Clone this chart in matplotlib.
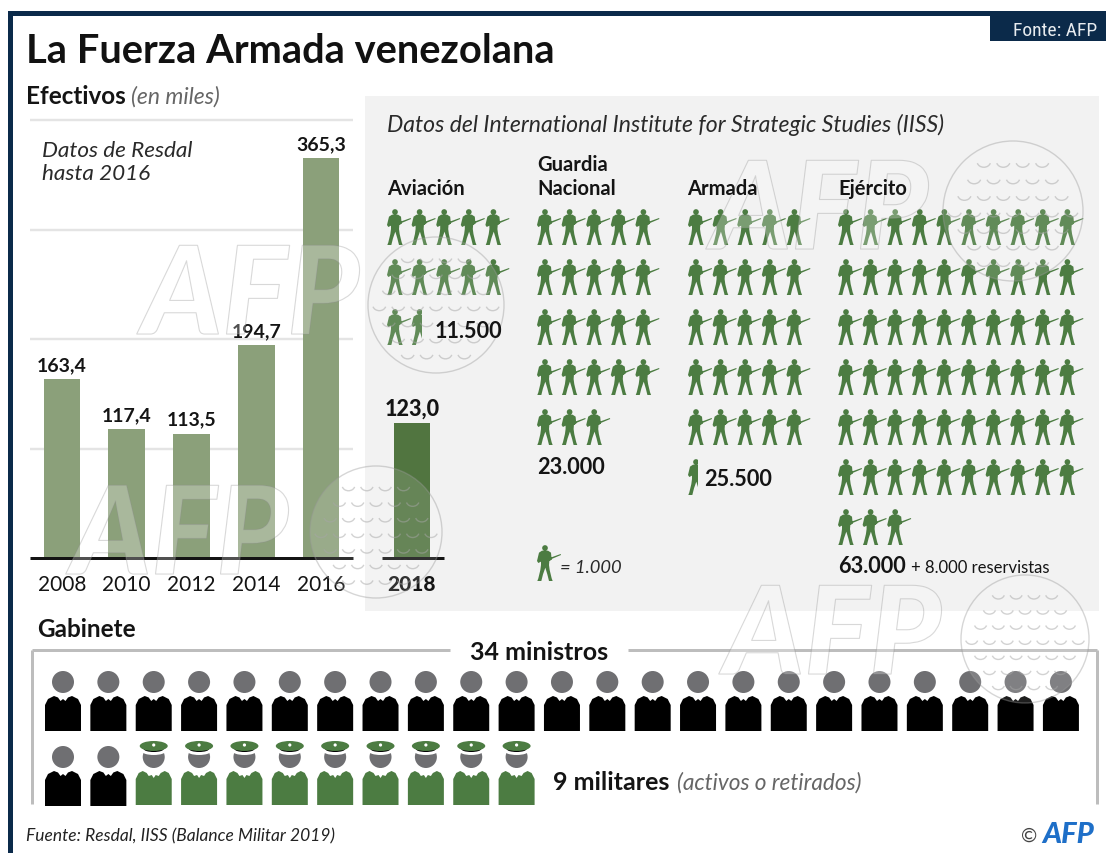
import numpy as np
import matplotlib
matplotlib.use("Agg")
import matplotlib.pyplot as plt
from matplotlib.path import Path
from matplotlib.patches import PathPatch, Circle, Ellipse, Rectangle, Arc
from matplotlib.transforms import Affine2D
import matplotlib.patheffects as pe

# ---- data ----
years = ["2008", "2010", "2012", "2014", "2016", "2018"]
effectives = [163.4, 117.4, 113.5, 194.7, 365.3, 123.0]
branches = ["Aviación", "Guardia\nNacional", "Armada", "Ejército"]
branch_thousands = [11.5, 23, 25.5, 63]
branch_labels = ["11.500", "23.000", "25.500", "63.000"]
per_row = [5, 5, 5, 10]
ministers_total = 34
ministers_military = 9
ministers_per_row = 23

# ---- style ----
W, H = 1106, 854
FONT = "Lato"
NAVY = "#0b2a4a"
BAR = "#8ba07a"
BAR_DARK = "#517540"
SOLDIER = "#4c7c42"
PANEL = "#f2f2f2"
GREY = "#bdbdbd"
HEAD = "#6f6f72"
INK = "#141414"
px = 72 / 100

plt.rcParams["font.family"] = [FONT, "DejaVu Sans"]
fig = plt.figure(figsize=(W / 100, H / 100), dpi=100, facecolor="white")


def layer(z):
    a = fig.add_axes([0, 0, 1, 1], zorder=z)
    a.set_xlim(0, W)
    a.set_ylim(H, 0)
    a.axis("off")
    a.patch.set_alpha(0)
    return a


bg = layer(0)
fg = layer(2)

# page frame
bg.add_patch(Rectangle((8, 12), 5, H - 12, fc=NAVY, ec="none"))
bg.add_patch(Rectangle((8, 12), W - 8, 5, fc=NAVY, ec="none"))
bg.add_patch(Rectangle((990, 12), W - 990, 30, fc=NAVY, ec="none"))
bg.add_patch(Rectangle((365, 97), 734, 515, fc=PANEL, ec="none"))

# ---- bar chart ----
ax = fig.add_axes([30 / W, 1 - 559 / H, (444 - 30) / W, (559 - 121) / H], zorder=1)
ax.patch.set_alpha(0)
pos = np.array([0, 1, 2, 3, 4, 5.405])
ax.set_xlim(-0.494, 5.9)
ax.set_ylim(0, 400)
for s in ax.spines.values():
    s.set_visible(False)
ax.set_yticks([])
ax.set_xticks([])
ax.hlines([100, 200, 300, 400], -0.494, 4.5, color="#e4e4e4", lw=2.4 * px, zorder=1, clip_on=False)
cols = [BAR] * 5 + [BAR_DARK]
ax.bar(pos, effectives, width=0.565, color=cols, zorder=2)
ax.hlines(0, -0.494, 4.5, color=INK, lw=3 * px, zorder=3, clip_on=False)
ax.hlines(0, 4.95, 5.9, color=INK, lw=3 * px, zorder=3, clip_on=False)
for i, (p, v, y) in enumerate(zip(pos, effectives, years)):
    last = i == len(years) - 1
    lab = f"{v:.1f}".replace(".", ",")
    ax.annotate(lab, (p, v), xytext=(0, 9 * px), textcoords="offset points", ha="center", va="baseline",
                fontsize=15.5 if last else 14, color=INK, weight="black" if last else "bold",
                annotation_clip=False, zorder=5)
    ax.annotate(y, (p, 0), xytext=(0, -32 * px), textcoords="offset points", ha="center", va="baseline",
                fontsize=15, color=INK, weight="black" if last else "normal",
                annotation_clip=False, zorder=5)


def T(x, y, s, size, weight="normal", style="normal", color=INK, ha="left", family=None, a=fg):
    return a.text(x, y, s, fontsize=size, weight=weight, style=style, color=color, ha=ha, va="baseline",
                  family=family or [FONT, "DejaVu Sans"], zorder=10, linespacing=1.0)


# ---- icons ----
def soldier_path():
    k = 1 / 3
    body = [(-9, 17), (9, 17), (18, 23), (20, 44), (13, 48), (12, 60), (14, 75), (20, 100), (23, 108), (12, 108),
            (7, 88), (1, 68), (-6, 88), (-11, 108), (-23, 108), (-20, 100), (-14, 75), (-12, 60), (-12, 50),
            (-20, 54), (-24, 48), (-18, 23), (-9, 17)]
    rifle = [(8, 41), (47, 27), (48, 30), (22, 41), (12, 48), (8, 41)]
    parts = [Path(np.array(body) * k, closed=True), Path(np.array(rifle) * k, closed=True),
             Path.circle((0, 9 * k), 8.5 * k)]
    return Path.make_compound_path(*parts)


SOLDIER_PATH = soldier_path()


def draw_soldier(x, top, half=False):
    p = PathPatch(SOLDIER_PATH.transformed(Affine2D().translate(x, top)), fc=SOLDIER, ec="none", zorder=4)
    fg.add_patch(p)
    if half:
        clip = Rectangle((x - 12, top - 1), 14, 40, transform=fg.transData)
        p.set_clip_path(clip)


col_x = [395, 545, 696, 846]
row_tops = 210
row_pitch = 50
col_pitch = 24.6
for cx, n, rowlen in zip(col_x, branch_thousands, per_row):
    whole = int(n)
    for k in range(int(np.ceil(n))):
        r, c = divmod(k, rowlen)
        draw_soldier(cx + c * col_pitch, row_tops + r * row_pitch, half=k >= whole)

draw_soldier(545, 546, False)

person = [(-18, 35), (-18, 9), (-15, 3), (-9, 0), (-5, 1.5), (-2.5, 5), (0, 3), (2.5, 5), (5, 1.5), (9, 0), (15, 3),
          (18, 9), (18, 35), (-18, 35)]
officer = [(-18, 34), (-18, 8), (-15, 2), (-11, 0), (-7, 2), (-5, 5), (-2, 4), (0, 7), (2, 4), (5, 5), (7, 2),
           (11, 0), (15, 2), (18, 8), (18, 34), (-18, 34)]
P_PERSON = Path(np.array(person), closed=True)
P_OFFICER = Path(np.array(officer), closed=True)


def civilian(x, head_y, top):
    fg.add_patch(Circle((x, head_y), 11, fc=HEAD, ec="none", zorder=4))
    fg.add_patch(PathPatch(P_PERSON.transformed(Affine2D().translate(x, top)), fc="black", ec="none", zorder=4))


def military(x, head_y, top):
    fg.add_patch(Circle((x, head_y), 11, fc=HEAD, ec="none", zorder=4))
    fg.add_patch(Ellipse((x, 752), 24, 8, fc="white", ec="none", zorder=5))
    fg.add_patch(Ellipse((x, 750), 20, 6, fc="black", ec="none", zorder=5))
    fg.add_patch(Ellipse((x, 747), 28, 10, fc=SOLDIER, ec="none", zorder=6))
    fg.add_patch(Circle((x, 746), 1.6, fc="white", ec="none", zorder=7))
    fg.add_patch(PathPatch(P_OFFICER.transformed(Affine2D().translate(x, top)), fc=SOLDIER, ec="none", zorder=4))


p_x0, p_dx = 63, 45.36
civil_total = ministers_total - ministers_military
for k in range(ministers_total):
    r, c = divmod(k, ministers_per_row)
    x = p_x0 + c * p_dx
    if k < civil_total:
        civilian(x, 683 + r * 75, 697 + r * 75)
    else:
        military(x, 758, 772)

# cabinet bracket
for xs, ys in [((32, 450), (651, 651)), ((628, 1097), (651, 651)), ((32, 32), (651, 805)), ((1097, 1097), (651, 805))]:
    bg.plot(xs, ys, color=GREY, lw=3 * px, solid_capstyle="butt")

# ---- text ----
T(1013, 36, "Fonte: AFP", 14, color="#e8ecf0", family="Roboto Condensed")
T(26, 63, "La Fuerza Armada venezolana", 28.7, weight="bold", color="#111111")
T(26, 104, "Efectivos", 17.5, weight="bold")
T(131, 104, "(en miles)", 16.5, style="italic", color="#666666")
T(42, 157, "Datos de Resdal", 16.2, style="italic", color="#2a2a2a")
T(42, 180, "hasta 2016", 16.2, style="italic", color="#2a2a2a")
T(387, 132, "Datos del International Institute for Strategic Studies (IISS)", 16.6, style="italic", color="#2a2a2a")

head_x = [387, 537, 687, 838]
for hx, b in zip(head_x, branches):
    lines = b.split("\n")
    for i, line in enumerate(reversed(lines)):
        T(hx, 195 - 24 * i, line, 14.5, weight="bold")

T(435, 338, branch_labels[0], 15.6, weight="bold")
T(537, 474, branch_labels[1], 15.6, weight="bold")
T(704, 486, branch_labels[2], 15.6, weight="bold")
T(838, 573, branch_labels[3], 15.6, weight="bold")
T(911, 573, "+ 8.000 reservistas", 12)
T(560, 573, "= 1.000", 13.2, style="italic", color="#2a2a2a")
T(37, 637, "Gabinete", 17.5, weight="bold")
T(470, 660, "34 ministros", 18, weight="bold")
T(553, 790, "9 militares", 18, weight="bold")
T(677, 790, "(activos o retirados)", 16.3, style="italic", color="#666666")
T(26, 841, "Fuente: Resdal, IISS (Balance Militar 2019)", 12.5, style="italic", color="#222222")
T(1021, 842, "©", 14, color="#444444")
T(1042, 843, "AFP", 21, weight="black", style="italic", color="#1e6fc8")


# ---- watermarks ----
def watermark(tx, ty, bx, by, br):
    fg.text(tx, ty, "AFP", fontsize=88, weight="black", style="italic", family=FONT, va="baseline",
            color=(1, 1, 1, 0.14), zorder=8,
            path_effects=[pe.Stroke(linewidth=0.8, foreground=(0.55, 0.55, 0.55, 0.35)), pe.Normal()])
    fg.add_patch(Circle((bx, by), br, fc=(1, 1, 1, 0.12), ec=(0.6, 0.6, 0.6, 0.4), lw=1, zorder=8))
    step = br / 3.6
    for j in range(-4, 5):
        for i in range(-4, 5):
            dx = (i + 0.5 * (j % 2)) * step
            dy = j * step * 0.85
            if dx * dx + dy * dy < (br * 0.88) ** 2:
                fg.add_patch(Arc((bx + dx, by + dy), step * 0.7, step * 0.6, theta1=15, theta2=165,
                                 ec=(0.65, 0.65, 0.65, 0.5), lw=1, zorder=8))


watermark(142, 335, 436, 306, 68)
watermark(71, 575, 376, 533, 66)
watermark(711, 250, 1013, 212, 70)
watermark(724, 675, 1025, 640, 64)

fig.savefig("out.png", dpi=100, facecolor="white")
